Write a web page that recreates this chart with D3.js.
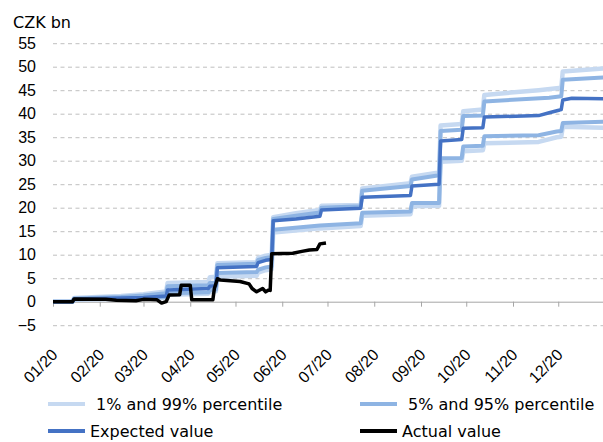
<!DOCTYPE html>
<html>
<head>
<meta charset="utf-8">
<script src="https://cdn.jsdelivr.net/npm/d3@7"></script>
<style>
	body { margin: 0; background: #fff; }
	svg { display: block; font-family: Verdana, "DejaVu Sans", sans-serif; }
</style>
</head>
<body>
<script>
// values, CZK bn, [date, value]
const yTicks   = [-5, 0, 5, 10, 15, 20, 25, 30, 35, 40, 45, 50, 55];
const months   = ["2020-01-01", "2020-02-01", "2020-03-01", "2020-04-01", "2020-05-01", "2020-06-01",
                  "2020-07-01", "2020-08-01", "2020-09-01", "2020-10-01", "2020-11-01", "2020-12-01"];

const p01 = [
	["2020-01-01", 0], ["2020-01-14", 0], ["2020-01-15", 0.4], ["2020-03-16", 0.8], ["2020-03-17", 1.5],
	["2020-04-13", 1.7], ["2020-04-14", 2.1], ["2020-04-18", 2.2], ["2020-04-19", 5.3], ["2020-05-15", 5.5],
	["2020-05-16", 6.2], ["2020-05-21", 6.7], ["2020-05-25", 6.9], ["2020-05-26", 14.7], ["2020-06-26", 15.6],
	["2020-07-23", 16.1], ["2020-07-24", 18.3], ["2020-08-25", 18.6], ["2020-08-26", 20.3], ["2020-09-13", 20.4],
	["2020-09-14", 29.8], ["2020-09-28", 30.0], ["2020-09-29", 32.0], ["2020-10-12", 32.2], ["2020-10-13", 33.7],
	["2020-11-18", 34.0], ["2020-11-30", 35.0], ["2020-12-03", 35.1], ["2020-12-04", 37.2], ["2020-12-31", 37.0]
];

const p05 = [
	["2020-01-01", 0], ["2020-01-14", 0], ["2020-01-15", 0.5], ["2020-03-01", 0.8], ["2020-03-16", 1.0],
	["2020-03-17", 1.8], ["2020-04-13", 2.0], ["2020-04-14", 2.5], ["2020-04-18", 2.6], ["2020-04-19", 6.1],
	["2020-05-15", 6.3], ["2020-05-16", 6.8], ["2020-05-21", 7.3], ["2020-05-25", 7.5], ["2020-05-26", 15.3],
	["2020-06-26", 16.2], ["2020-07-23", 16.7], ["2020-07-24", 18.9], ["2020-08-25", 19.2], ["2020-08-26", 21.0],
	["2020-09-13", 21.0], ["2020-09-14", 30.5], ["2020-09-28", 30.6], ["2020-09-29", 33.0], ["2020-10-12", 33.2],
	["2020-10-13", 35.2], ["2020-11-18", 35.4], ["2020-11-30", 36.2], ["2020-12-03", 36.3], ["2020-12-04", 38.0],
	["2020-12-31", 38.3]
];

const expected = [
	["2020-01-01", 0], ["2020-01-14", 0], ["2020-01-15", 0.6], ["2020-02-01", 0.7], ["2020-03-01", 0.9],
	["2020-03-16", 1.2], ["2020-03-17", 2.5], ["2020-04-13", 2.8], ["2020-04-14", 3.3], ["2020-04-18", 3.4],
	["2020-04-19", 7.2], ["2020-05-15", 7.5], ["2020-05-16", 8.3], ["2020-05-21", 8.8], ["2020-05-25", 9.0],
	["2020-05-26", 17.2], ["2020-06-10", 17.6], ["2020-06-26", 18.2], ["2020-06-27", 19.5], ["2020-07-23", 19.9],
	["2020-07-24", 22.2], ["2020-08-25", 22.6], ["2020-08-26", 24.6], ["2020-09-13", 25.0], ["2020-09-14", 34.2],
	["2020-09-28", 34.5], ["2020-09-29", 36.9], ["2020-10-12", 37.0], ["2020-10-13", 39.3], ["2020-11-18", 39.6],
	["2020-11-25", 40.2], ["2020-12-02", 40.8], ["2020-12-03", 40.9], ["2020-12-04", 42.9], ["2020-12-10", 43.3],
	["2020-12-31", 43.2]
];

const p95 = [
	["2020-01-01", 0], ["2020-01-14", 0], ["2020-01-15", 0.7], ["2020-02-15", 1.0], ["2020-03-01", 1.3],
	["2020-03-16", 1.8], ["2020-03-17", 3.3], ["2020-04-13", 3.5], ["2020-04-14", 4.0], ["2020-04-18", 4.1],
	["2020-04-19", 7.8], ["2020-05-15", 8.1], ["2020-05-16", 8.9], ["2020-05-21", 9.3], ["2020-05-25", 9.5],
	["2020-05-26", 17.6], ["2020-06-10", 18.3], ["2020-06-26", 19.0], ["2020-06-27", 20.0], ["2020-07-23", 20.3],
	["2020-07-24", 23.6], ["2020-08-25", 24.6], ["2020-08-26", 26.0], ["2020-09-13", 26.9], ["2020-09-14", 36.3],
	["2020-09-28", 36.6], ["2020-09-29", 39.5], ["2020-10-12", 39.6], ["2020-10-13", 42.6], ["2020-11-25", 43.4],
	["2020-12-03", 43.7], ["2020-12-04", 47.2], ["2020-12-31", 47.7]
];

const p99 = [
	["2020-01-01", 0], ["2020-01-14", 0], ["2020-01-15", 0.8], ["2020-02-15", 1.2], ["2020-03-01", 1.6],
	["2020-03-16", 2.2], ["2020-03-17", 4.0], ["2020-04-13", 4.2], ["2020-04-14", 5.2], ["2020-04-18", 5.3],
	["2020-04-19", 8.2], ["2020-05-15", 8.4], ["2020-05-16", 9.3], ["2020-05-21", 9.8], ["2020-05-25", 10.0],
	["2020-05-26", 18.0], ["2020-06-10", 18.8], ["2020-06-26", 19.5], ["2020-06-27", 20.4], ["2020-07-23", 20.6],
	["2020-07-24", 24.1], ["2020-08-25", 25.2], ["2020-08-26", 26.6], ["2020-09-13", 27.5], ["2020-09-14", 37.5],
	["2020-09-28", 37.8], ["2020-09-29", 40.5], ["2020-10-12", 40.9], ["2020-10-13", 44.0], ["2020-11-18", 45.0],
	["2020-11-30", 45.4], ["2020-12-03", 45.5], ["2020-12-04", 49.0], ["2020-12-31", 49.6]
];

const actual = [
	["2020-01-01", 0], ["2020-01-14", 0], ["2020-01-15", 0.6], ["2020-02-05", 0.5], ["2020-02-12", 0.3],
	["2020-02-25", 0.2], ["2020-03-01", 0.5], ["2020-03-10", 0.4], ["2020-03-13", -0.3], ["2020-03-16", 0.0],
	["2020-03-18", 1.4], ["2020-03-25", 1.5], ["2020-03-26", 3.5], ["2020-04-01", 3.5], ["2020-04-02", 0.4],
	["2020-04-16", 0.4], ["2020-04-17", 2.8], ["2020-04-19", 4.9], ["2020-04-21", 4.6], ["2020-05-04", 4.3],
	["2020-05-10", 3.8], ["2020-05-12", 2.8], ["2020-05-15", 2.1], ["2020-05-19", 2.8], ["2020-05-21", 2.1],
	["2020-05-23", 2.5], ["2020-05-24", 2.4], ["2020-05-25", 10.2], ["2020-06-08", 10.3], ["2020-06-14", 10.7],
	["2020-06-19", 11.0], ["2020-06-24", 11.1], ["2020-06-26", 12.3], ["2020-06-30", 12.5]
];

const series = [
	{ name: "p01",      data: p01,      color: "#C6D9F1", width: 4.5 },
	{ name: "p99",      data: p99,      color: "#C6D9F1", width: 4.5 },
	{ name: "p05",      data: p05,      color: "#8EB4E3", width: 4 },
	{ name: "p95",      data: p95,      color: "#8EB4E3", width: 4 },
	{ name: "expected", data: expected, color: "#4472C4", width: 3.5 },
	{ name: "actual",   data: actual,   color: "#000000", width: 3.5 },
];

const legendItems = [
	{ label: "1% and 99% percentile", color: "#C6D9F1", col: 0, row: 0 },
	{ label: "5% and 95% percentile", color: "#8EB4E3", col: 1, row: 0 },
	{ label: "Expected value",        color: "#4472C4", col: 0, row: 1 },
	{ label: "Actual value",          color: "#000000", col: 1, row: 1 },
];

const width  = 603;
const height = 442;
const parse  = d3.timeParse("%Y-%m-%d");

const svg = d3.select("body").append("svg")
	.attr("width", width)
	.attr("height", height);

const x = d3.scaleTime()
	.domain([parse("2020-01-01"), parse("2021-01-01")])
	.range([53, 605]);

const y = d3.scaleLinear()
	.domain([-5, 55])
	.range([325.2, 43.2]);

// dashed grid, zero line is the axis
svg.append("g")
	.attr("class", "grid")
	.attr("transform", "translate(53,0)")
	.call(d3.axisLeft(y).tickValues(yTicks.filter(d => d != 0)).tickSize(-552).tickFormat(""))
	.call(g => g.select(".domain").remove())
	.call(g => g.selectAll("line")
		.attr("stroke", "#bfbfbf")
		.attr("stroke-width", 1)
		.attr("stroke-dasharray", "4,3.5"));

// y labels
svg.append("g")
	.attr("transform", "translate(53,0)")
	.call(d3.axisLeft(y).tickValues(yTicks).tickSize(0).tickPadding(17))
	.call(g => g.select(".domain").remove())
	.call(g => g.selectAll("text")
		.attr("font-family", null)
		.attr("font-size", 16)
		.attr("fill", "#000"));

svg.append("text")
	.attr("x", 13)
	.attr("y", 28)
	.attr("font-size", 16)
	.text("CZK bn");

// x axis
svg.append("g")
	.attr("transform", "translate(0," + y(0) + ")")
	.call(d3.axisBottom(x)
		.tickValues(months.map(parse))
		.tickSize(5)
		.tickFormat(d3.timeFormat("%m/%y")))
	.call(g => g.select(".domain").attr("stroke", "#a6a6a6").attr("d", "M53,0.5H603"))
	.call(g => g.selectAll("line").attr("stroke", "#a6a6a6"))
	.call(g => g.selectAll("text")
		.attr("font-family", null)
		.attr("font-size", 16)
		.attr("fill", "#000")
		.attr("text-anchor", "end")
		.attr("y", 0)
		.attr("dy", "0.35em")
		.attr("transform", "translate(1,50) rotate(-45)"));

// lines
const line = d3.line()
	.x(d => x(parse(d[0])))
	.y(d => y(d[1]))
	.curve(d3.curveLinear);

svg.append("g")
	.attr("class", "lines")
	.selectAll("path")
	.data(series)
	.join("path")
	.attr("class", d => d.name)
	.attr("fill", "none")
	.attr("stroke", d => d.color)
	.attr("stroke-width", d => d.width)
	.attr("stroke-linejoin", "round")
	.attr("d", d => line(d.data));

// legend
const legend = svg.append("g")
	.attr("class", "legend")
	.selectAll("g")
	.data(legendItems)
	.join("g")
	.attr("transform", d => "translate(" + (48 + d.col * 312) + "," + (404 + d.row * 27) + ")");

legend.append("line")
	.attr("x1", 0)
	.attr("x2", 37)
	.attr("stroke", d => d.color)
	.attr("stroke-width", 4);

legend.append("text")
	.attr("x", d => d.row == 0 ? 48 : 42)
	.attr("dy", "0.35em")
	.attr("font-size", 16)
	.text(d => d.label);
</script>
</body>
</html>
